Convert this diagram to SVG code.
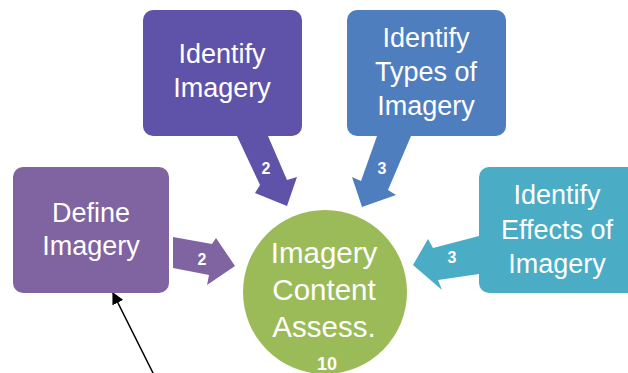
<svg xmlns="http://www.w3.org/2000/svg" width="628" height="373" viewBox="0 0 628 373">
<defs>
<style>
.box{stroke:none}
.t{font-family:"Liberation Sans",Arial,sans-serif;font-size:27px;fill:#fff;text-anchor:middle}
.ct{font-family:"Liberation Sans",Arial,sans-serif;font-size:29.5px;fill:#fff;text-anchor:middle}
.n{font-family:"Liberation Sans",Arial,sans-serif;font-size:16px;font-weight:bold;fill:#fff;text-anchor:middle}
</style>
<marker id="ah" viewBox="0 0 10 10" refX="9" refY="5" markerWidth="12" markerHeight="12" markerUnits="userSpaceOnUse" orient="auto">
<path d="M0,0 L10,5 L0,10 z" fill="#000"/>
</marker>
</defs>
<rect width="628" height="373" fill="#fff"/>
<g id="connectors">
<g id="a1"><polygon points="173,237 212,244 216,238 235,266 207,285 209,275 173,268" fill="#8064A2"/><text class="n" x="202" y="265">2</text></g>
<g id="a2"><polygon points="237,136 268,136 287,180 297,177 287,206 255,193 260,185" fill="#5F53A9"/><text class="n" x="266" y="174">2</text></g>
<g id="a3"><polygon points="377,136 411,136 388,190 396,195 362,207 352,177 361,181" fill="#4F7EBF"/><text class="n" x="382" y="174">3</text></g>
<g id="a4"><polygon points="479,236 433,248 428,239 413,265 442,290 438,280 479,274" fill="#4BACC6"/><text class="n" x="452" y="263">3</text></g>
<line x1="154" y1="375" x2="113" y2="293" stroke="#000" stroke-width="1.5" marker-end="url(#ah)"/>
</g>
<g id="define"><rect class="box" x="13" y="167" width="156" height="126" rx="10" fill="#8064A2"/>
<text class="t" x="91" y="222">Define</text><text class="t" x="91" y="255">Imagery</text></g>
<g id="identify"><rect class="box" x="143" y="10" width="159" height="126" rx="10" fill="#5F53A9"/>
<text class="t" x="222" y="63">Identify</text><text class="t" x="222" y="97">Imagery</text></g>
<g id="types"><rect class="box" x="347" y="10" width="159" height="126" rx="10" fill="#4F7EBF"/>
<text class="t" x="426" y="47">Identify</text><text class="t" x="426" y="81">Types of</text><text class="t" x="426" y="115">Imagery</text></g>
<g id="effects"><rect class="box" x="479" y="167" width="158" height="126" rx="10" fill="#4BACC6"/>
<text class="t" x="557" y="204">Identify</text><text class="t" x="557" y="239">Effects of</text><text class="t" x="557" y="273">Imagery</text></g>
<g id="center"><circle cx="325" cy="292" r="82" fill="#9BBB59"/>
<text class="ct" x="324" y="263">Imagery</text><text class="ct" x="324" y="300">Content</text><text class="ct" x="324" y="337">Assess.</text>
<text class="n" x="327" y="370" style="font-size:18px">10</text></g>
</svg>
